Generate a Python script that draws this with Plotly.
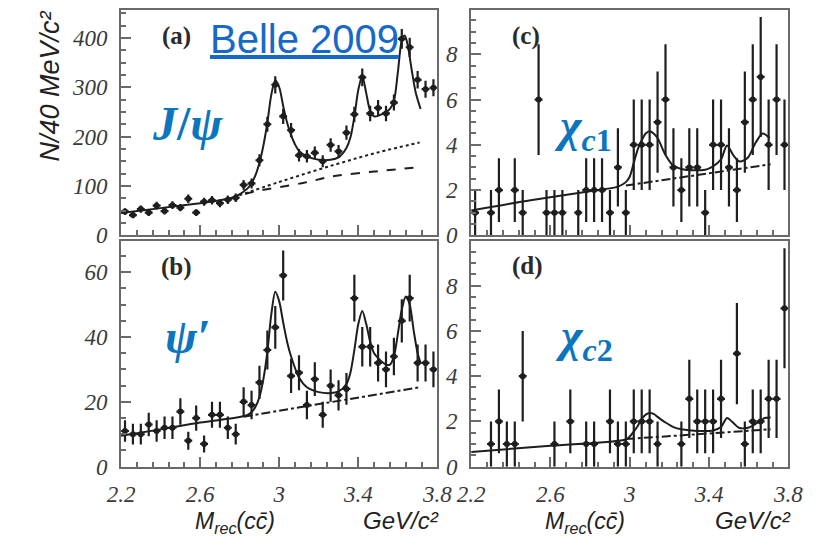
import plotly.graph_objects as go

# ---------------------------------------------------------------- data
# bin centres (40 MeV bins) of the recoil mass M_rec(cc̄), GeV/c^2
bin_centres = [2.22, 2.26, 2.30, 2.34, 2.38, 2.42, 2.46, 2.50, 2.54, 2.58,
               2.62, 2.66, 2.70, 2.74, 2.78, 2.82, 2.86, 2.90, 2.94, 2.98,
               3.02, 3.06, 3.10, 3.14, 3.18, 3.22, 3.26, 3.30, 3.34, 3.38,
               3.42, 3.46, 3.50, 3.54, 3.58, 3.62, 3.66, 3.70, 3.74, 3.78]
half_bin = 0.02

# (a) J/psi
jpsi_counts = [48, 41, 53, 46, 60, 49, 61, 56, 74, 46,
               68, 71, 65, 72, 76, 102, 105, 152, 225, 305,
               241, 213, 162, 160, 167, 150, 183, 170, 208, 245,
               320, 247, 258, 247, 269, 398, 381, 315, 296, 299]
jpsi_err = [6.9, 6.4, 7.3, 6.8, 7.7, 7.0, 7.8, 7.5, 8.6, 6.8,
            8.2, 8.4, 8.1, 8.5, 8.7, 10.1, 10.2, 12.3, 15.0, 17.5,
            15.5, 14.6, 12.7, 12.6, 12.9, 12.2, 13.5, 13.0, 14.4, 15.7,
            17.9, 15.7, 16.1, 15.7, 16.4, 19.9, 19.5, 17.7, 17.2, 17.3]

# (b) psi(2S)
psi2s_counts = [11, 10, 10, 13, 11, 12, 12, 17, 8, 15,
                7, 16, 16, 12, 10, 20, 19, 26, 36, 43,
                59, 28, 29, 19, 27, 16, 25, 22, 24, 52,
                37, 37, 32, 30, 34, 45, 52, 32, 32, 30]
psi2s_err = [3.3, 3.2, 3.2, 3.6, 3.3, 3.5, 3.5, 4.1, 2.8, 3.9,
             2.6, 4.0, 4.0, 3.5, 3.2, 4.5, 4.4, 5.1, 6.0, 6.6,
             7.7, 5.3, 5.4, 4.4, 5.2, 4.0, 5.0, 4.7, 4.9, 7.2,
             6.1, 6.1, 5.7, 5.5, 5.8, 6.7, 7.2, 5.7, 5.7, 5.5]

# (c) chi_c1  (empty bins are not drawn)
chic1_counts = [1, None, 1, 2, None, 2, 1, None, 6, 1,
                1, 1, None, 1, 2, 2, 2, 1, 3, 1,
                4, 4, 4, 5, 6, 3, 2, 3, 3, 1,
                4, 4, 3, 2, 5, 6, 7, 4, 6, 4]
chic1_err = [1.0, None, 1.0, 1.41, None, 1.41, 1.0, None, 2.45, 1.0,
             1.0, 1.0, None, 1.0, 1.41, 1.41, 1.41, 1.0, 1.73, 1.0,
             2.0, 2.0, 2.0, 2.24, 2.45, 1.73, 1.41, 1.73, 1.73, 1.0,
             2.0, 2.0, 1.73, 1.41, 2.24, 2.45, 2.65, 2.0, 2.45, 2.0]

# (d) chi_c2
chic2_counts = [None, None, 1, 2, 1, 1, 4, None, None, None,
                1, None, 2, None, 1, 1, None, 2, 1, 1,
                2, 2, 2, 1, None, None, 1, 3, 2, 2,
                2, 3, None, 5, 1, 2, 2, 3, 3, 7]
chic2_err = [None, None, 1.0, 1.41, 1.0, 1.0, 2.0, None, None, None,
             1.0, None, 1.41, None, 1.0, 1.0, None, 1.41, 1.0, 1.0,
             1.41, 1.41, 1.41, 1.0, None, None, 1.0, 1.73, 1.41, 1.41,
             1.41, 1.73, None, 2.24, 1.0, 1.41, 1.41, 1.73, 1.73, 2.65]

# fit results sampled along the mass axis
jpsi_fit_x = [2.20, 2.40, 2.60, 2.70, 2.78, 2.84, 2.86, 2.88, 2.90, 2.92,
              2.94, 2.96, 2.98, 3.00, 3.02, 3.04, 3.06, 3.08, 3.10, 3.14,
              3.20, 3.26, 3.30, 3.34, 3.36, 3.38, 3.40, 3.42, 3.44, 3.46,
              3.48, 3.50, 3.54, 3.56, 3.58, 3.60, 3.62, 3.635, 3.65, 3.67,
              3.69, 3.715]
jpsi_fit_y = [45, 55, 65, 71, 79, 95, 106, 122, 147, 182,
              228, 285, 314, 300, 262, 228, 203, 184, 171, 160,
              153, 153, 158, 177, 198, 240, 295, 323, 288, 252,
              241, 242, 250, 256, 272, 330, 395, 405, 385, 335,
              290, 256]
jpsi_bkg2_x = [2.74, 3.00, 3.28, 3.50, 3.71]
jpsi_bkg2_y = [73, 108, 143, 168, 188]
jpsi_bkg_x = [2.74, 2.85, 3.12, 3.28, 3.50, 3.71]
jpsi_bkg_y = [72, 86, 106, 120, 130, 138]

psi2s_fit_x = [2.20, 2.40, 2.60, 2.80, 2.84, 2.86, 2.88, 2.90, 2.92, 2.94,
               2.96, 2.98, 3.00, 3.02, 3.04, 3.06, 3.10, 3.14, 3.20, 3.26,
               3.30, 3.34, 3.36, 3.38, 3.40, 3.42, 3.44, 3.46, 3.48, 3.50,
               3.54, 3.56, 3.58, 3.60, 3.62, 3.64, 3.66, 3.68, 3.70, 3.715]
psi2s_fit_y = [9.5, 11.5, 13.6, 15.3, 16.0, 16.8, 18.5, 21.5, 27.0, 35.5,
               47.0, 54.0, 51.0, 44.5, 38.5, 34.0, 27.5, 24.5, 23.0, 22.7,
               23.2, 25.5, 29.0, 36.0, 44.0, 48.0, 44.0, 38.5, 35.0, 33.5,
               31.5, 31.5, 34.0, 41.0, 48.5, 52.5, 50.0, 42.0, 35.0, 32.0]
psi2s_bkg_x = [2.82, 3.71]
psi2s_bkg_y = [15.4, 24.5]

chic1_fit_x = [2.20, 2.50, 2.80, 2.94, 2.98, 3.00, 3.02, 3.04, 3.06, 3.08,
               3.10, 3.12, 3.14, 3.18, 3.22, 3.26, 3.30, 3.38, 3.42, 3.46,
               3.49, 3.525, 3.555, 3.595, 3.635, 3.67, 3.705]
chic1_fit_y = [1.1, 1.55, 1.95, 2.15, 2.35, 2.6, 3.2, 3.8, 4.2, 4.5,
               4.6, 4.5, 4.3, 3.55, 3.07, 2.93, 2.88, 2.9, 3.05, 3.36,
               3.97, 3.5, 3.26, 3.43, 4.1, 4.5, 4.3]
chic1_bkg_x = [2.98, 3.71]
chic1_bkg_y = [2.2, 3.14]

chic2_fit_x = [2.20, 2.60, 2.98, 3.00, 3.02, 3.04, 3.06, 3.08, 3.10, 3.12,
               3.14, 3.18, 3.22, 3.26, 3.34, 3.42, 3.46, 3.49, 3.52, 3.55,
               3.60, 3.64, 3.68, 3.71]
chic2_fit_y = [0.65, 0.92, 1.2, 1.33, 1.55, 1.8, 2.1, 2.3, 2.37, 2.33,
               2.2, 1.95, 1.75, 1.65, 1.58, 1.6, 1.75, 2.15, 1.95, 1.72,
               1.73, 1.92, 2.15, 2.17]
chic2_bkg_x = [2.98, 3.71]
chic2_bkg_y = [1.22, 1.65]

x_ticks = [2.2, 2.6, 3.0, 3.4, 3.8]
x_tick_text = ["2.2", "2.6", "3", "3.4", "3.8"]

# ---------------------------------------------------------------- style
INK = "#1e1e1e"
FRAME = "#6a6a6a"
BLUE = "#0B76BD"
W, H = 816, 547
SERIF = "Liberation Serif, Times New Roman, serif"
SANS = "Liberation Sans, Arial, sans-serif"

fig = go.Figure()

panels = [
    dict(xa="x", ya="y", counts=jpsi_counts, err=jpsi_err,
         fit=(jpsi_fit_x, jpsi_fit_y),
         bkgs=[(jpsi_bkg2_x, jpsi_bkg2_y, "dot"), (jpsi_bkg_x, jpsi_bkg_y, "dash")],
         yr=[0, 457], dt=100, mdt=25, bottom=False),
    dict(xa="x2", ya="y2", counts=psi2s_counts, err=psi2s_err,
         fit=(psi2s_fit_x, psi2s_fit_y),
         bkgs=[(psi2s_bkg_x, psi2s_bkg_y, "dashdot")],
         yr=[0, 69.6], dt=20, mdt=5, bottom=True),
    dict(xa="x3", ya="y3", counts=chic1_counts, err=chic1_err,
         fit=(chic1_fit_x, chic1_fit_y),
         bkgs=[(chic1_bkg_x, chic1_bkg_y, "dashdot")],
         yr=[0, 9.97], dt=2, mdt=0.5, bottom=False),
    dict(xa="x4", ya="y4", counts=chic2_counts, err=chic2_err,
         fit=(chic2_fit_x, chic2_fit_y),
         bkgs=[(chic2_bkg_x, chic2_bkg_y, "dashdot")],
         yr=[0, 9.97], dt=2, mdt=0.5, bottom=True),
]

for p in panels:
    for bx, by, dash in p["bkgs"]:
        fig.add_trace(go.Scatter(
            x=bx, y=by, mode="lines", xaxis=p["xa"], yaxis=p["ya"],
            line=dict(color=INK, width=2, dash=dash, shape="spline"),
            showlegend=False, hoverinfo="skip"))
    fig.add_trace(go.Scatter(
        x=p["fit"][0], y=p["fit"][1], mode="lines", xaxis=p["xa"], yaxis=p["ya"],
        line=dict(color=INK, width=2, shape="spline", smoothing=0.8),
        showlegend=False, hoverinfo="skip"))
    fig.add_trace(go.Scatter(
        x=bin_centres, y=p["counts"], mode="markers", xaxis=p["xa"], yaxis=p["ya"],
        marker=dict(color=INK, size=6),
        error_y=dict(type="data", array=p["err"], color=INK, thickness=2.2, width=0),
        error_x=dict(type="constant", value=half_bin, color=INK, thickness=2.2, width=0),
        showlegend=False))

# axis domains in paper fractions (pixel edges of each frame)
def xdom(l, r):
    return [l / W, r / W]

def ydom(t, b):
    return [1 - b / H, 1 - t / H]

xdoms = {"x": xdom(111, 439), "x2": xdom(111, 439), "x3": xdom(474, 803), "x4": xdom(474, 803)}
ydoms = {"y": ydom(10, 241), "y2": ydom(247, 478), "y3": ydom(10, 241), "y4": ydom(247, 478)}

tick_font = dict(family=SERIF, size=23, color="#3a3a3a", style="italic")

for p in panels:
    xkey = "xaxis" + p["xa"][1:]
    ykey = "yaxis" + p["ya"][1:]
    fig.layout[xkey] = dict(
        domain=xdoms[p["xa"]], anchor=p["ya"], range=[2.2, 3.8],
        tickvals=x_ticks, ticktext=x_tick_text, showticklabels=p["bottom"],
        ticks="inside", ticklen=10, tickwidth=1.5, tickcolor=FRAME,
        minor=dict(tick0=2.2, dtick=0.08, ticks="inside", ticklen=5,
                   tickwidth=1.5, tickcolor=FRAME),
        showline=True, linecolor=FRAME, linewidth=2, mirror=True,
        showgrid=False, zeroline=False, tickfont=tick_font, ticklabelstandoff=6)
    fig.layout[ykey] = dict(
        domain=ydoms[p["ya"]], anchor=p["xa"], range=p["yr"],
        tick0=0, dtick=p["dt"],
        ticks="inside", ticklen=10, tickwidth=1.5, tickcolor=FRAME,
        minor=dict(tick0=0, dtick=p["mdt"], ticks="inside", ticklen=5,
                   tickwidth=1.5, tickcolor=FRAME),
        showline=True, linecolor=FRAME, linewidth=2, mirror=True,
        showgrid=False, zeroline=False, tickfont=tick_font, ticklabelstandoff=7)

# ---------------------------------------------------------------- text
def px_note(text, x, y, size, color, family, **kw):
    fig.add_annotation(text=text, x=x / W, y=1 - y / H, xref="paper", yref="paper",
                       showarrow=False, font=dict(size=size, color=color, family=family),
                       xanchor="center", yanchor="middle", **kw)

for lab, cx, cy in [("(a)", 168, 37), ("(b)", 169, 273), ("(c)", 531, 37), ("(d)", 532, 272)]:
    px_note("<b>" + lab + "</b>", cx, cy, 25, "#2a2a2a", SERIF)

px_note("<u>Belle 2009</u>", 301, 40, 40, "#1669C9", SANS)

px_note("<b><i>J</i></b><b>/</b><b><i>ψ</i></b>", 180, 126, 48, BLUE, SERIF)
px_note("<b><i>ψ′</i></b>", 180, 345, 48, BLUE, SERIF)
px_note("<b><i>χ</i></b><sub><b><i>c</i>1</b></sub>", 590, 132, 46, BLUE, SERIF)
px_note("<b><i>χ</i></b><sub><b><i>c</i>2</b></sub>", 591, 347, 46, BLUE, SERIF)

px_note("<i>N/40 MeV/c²</i>", 37, 88, 27, "#222222", SANS, textangle=-90)

for cx in (229, 592):
    px_note("<i>M<sub>rec</sub>(cc\u0304)</i>", cx, 535, 23, "#222222", SANS)
for cx in (401, 766):
    px_note("<i>GeV/c²</i>", cx, 533, 24, "#222222", SANS)

fig.update_layout(
    width=W, height=H, margin=dict(l=0, r=0, t=0, b=0),
    paper_bgcolor="white", plot_bgcolor="white",
    font=dict(family=SERIF),
)

fig.write_html("out.html")
